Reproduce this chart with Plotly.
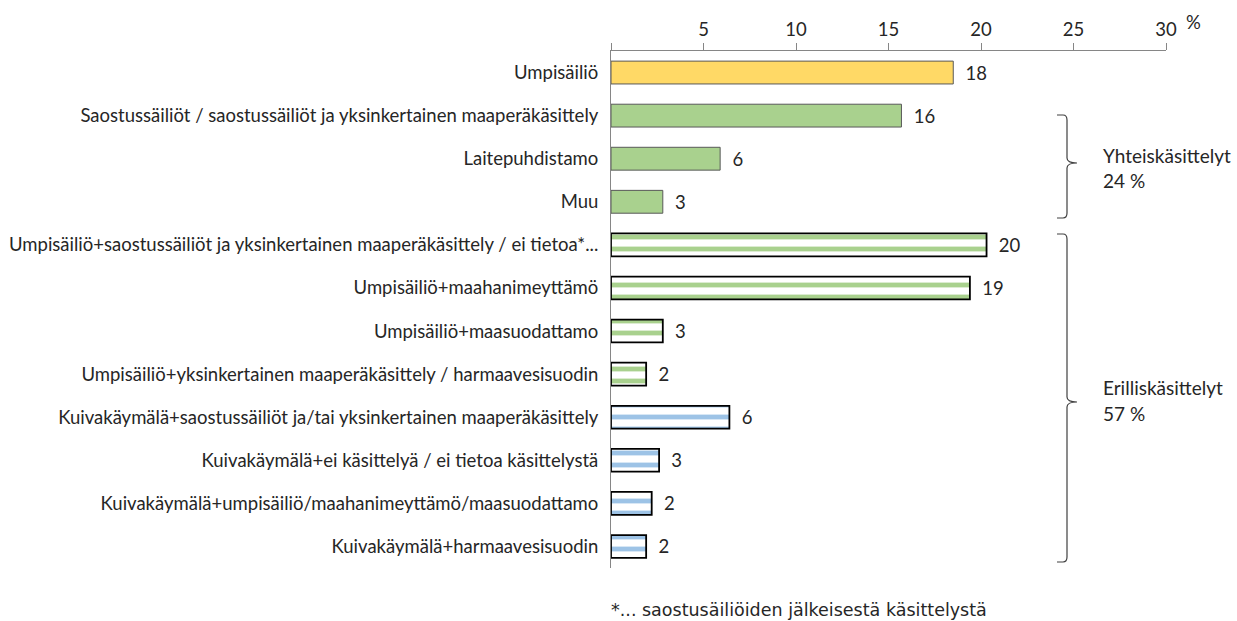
import plotly.graph_objects as go

categories = [
    "Umpisäiliö",
    "Saostussäiliöt / saostussäiliöt ja yksinkertainen maaperäkäsittely",
    "Laitepuhdistamo",
    "Muu",
    "Umpisäiliö+saostussäiliöt ja yksinkertainen maaperäkäsittely / ei tietoa*...",
    "Umpisäiliö+maahanimeyttämö",
    "Umpisäiliö+maasuodattamo",
    "Umpisäiliö+yksinkertainen maaperäkäsittely / harmaavesisuodin",
    "Kuivakäymälä+saostussäiliöt ja/tai yksinkertainen maaperäkäsittely",
    "Kuivakäymälä+ei käsittelyä / ei tietoa käsittelystä",
    "Kuivakäymälä+umpisäiliö/maahanimeyttämö/maasuodattamo",
    "Kuivakäymälä+harmaavesisuodin",
]
values = [18.5, 15.7, 5.9, 2.8, 20.3, 19.4, 2.8, 1.9, 6.4, 2.6, 2.2, 1.9]
value_labels = ["18", "16", "6", "3", "20", "19", "3", "2", "6", "3", "2", "2"]
groups = ["umpi", "yht", "yht", "yht", "eril_g", "eril_g", "eril_g", "eril_g",
          "eril_b", "eril_b", "eril_b", "eril_b"]
x_ticks = [0, 5, 10, 15, 20, 25, 30]
x_ticktext = ["", "5", "10", "15", "20", "25", "30"]

FONT = "Lato"
FS = 18.5
TXT = "#262626"

styles = {
    "umpi":   dict(color="#FFD966", shape="", fg="#FFD966", lc="#595959", lw=1),
    "yht":    dict(color="#A9D18E", shape="", fg="#A9D18E", lc="#595959", lw=1),
    "eril_g": dict(color="white", shape="-", fg="#A9D18E", lc="#000000", lw=1.8),
    "eril_b": dict(color="white", shape="-", fg="#9DC3E6", lc="#000000", lw=1.8),
}

fig = go.Figure()
for g, st in styles.items():
    idx = [i for i, gg in enumerate(groups) if gg == g]
    pattern = dict(shape=st["shape"])
    if st["shape"]:
        pattern.update(fgcolor=st["fg"], bgcolor="white", size=12, solidity=0.4,
                       fillmode="replace")
    fig.add_trace(go.Bar(
        y=[categories[i] for i in idx], x=[values[i] for i in idx], orientation="h",
        text=["\u2002" + value_labels[i] for i in idx], textposition="outside",
        textfont=dict(family=FONT, size=FS, color=TXT),
        cliponaxis=False, width=0.53,
        marker=dict(color=st["color"], line=dict(color=st["lc"], width=st["lw"]),
                    pattern=pattern),
        hoverinfo="skip", name=g,
    ))

fig.update_layout(
    width=1237, height=621,
    margin=dict(l=611, r=71, t=51, b=53),
    paper_bgcolor="white", plot_bgcolor="white",
    showlegend=False, barmode="overlay",
    xaxis=dict(
        side="top", range=[0, 30], tickvals=x_ticks, ticktext=x_ticktext,
        showline=True, linecolor="#868686", linewidth=1,
        ticks="outside", ticklen=7, tickcolor="#868686",
        showgrid=False, zeroline=False, automargin=False,
        tickfont=dict(family=FONT, size=FS, color=TXT),
    ),
    yaxis=dict(
        categoryorder="array", categoryarray=categories,
        range=[11.5, -0.5],
        showline=True, linecolor="#868686", linewidth=1,
        ticks="", showgrid=False, zeroline=False, automargin=False,
        ticklabelstandoff=8,
        tickfont=dict(family=FONT, size=FS, color=TXT),
    ),
)

def px_to_paper_x(px):
    return (px - 611) / (1166 - 611)

def px_to_paper_y(py):
    return (568 - py) / (568 - 51)

# % unit label
fig.add_annotation(xref="paper", yref="paper", x=px_to_paper_x(1193), y=px_to_paper_y(22),
                   text="%", showarrow=False, xanchor="center", yanchor="middle",
                   font=dict(family=FONT, size=FS, color=TXT))

def bracket(top, mid, bottom):
    xl, xv, xr = px_to_paper_x(1057), px_to_paper_x(1067), px_to_paper_x(1077)
    xc = px_to_paper_x(1063)
    yt, ym, yb = px_to_paper_y(top), px_to_paper_y(mid), px_to_paper_y(bottom)
    d = px_to_paper_y(top) - px_to_paper_y(top + 5)
    path = (f"M {xl},{yt} L {xc},{yt} Q {xv},{yt} {xv},{yt-d} "
            f"L {xv},{ym+d} Q {xv},{ym} {xr},{ym} Q {xv},{ym} {xv},{ym-d} "
            f"L {xv},{yb+d} Q {xv},{yb} {xc},{yb} L {xl},{yb}")
    fig.add_shape(type="path", path=path, xref="paper", yref="paper",
                  line=dict(color="#404040", width=1.2))

bracket(115, 163, 218)
bracket(234, 402, 562)

def label(text, py):
    fig.add_annotation(xref="paper", yref="paper", x=px_to_paper_x(1101), y=px_to_paper_y(py),
                       text=text, showarrow=False, xanchor="left", yanchor="middle",
                       font=dict(family=FONT, size=19, color=TXT))

label("Yhteiskäsittelyt", 155)
label("24 %", 181)
label("Erilliskäsittelyt", 387)
label("57 %", 413)

fig.add_annotation(xref="paper", yref="paper", x=px_to_paper_x(609), y=px_to_paper_y(610),
                   text="*... saostusäiliöiden jälkeisestä käsittelystä", showarrow=False,
                   xanchor="left", yanchor="middle",
                   font=dict(family="DejaVu Sans", size=17.5, color=TXT))

fig.write_html("out.html")
